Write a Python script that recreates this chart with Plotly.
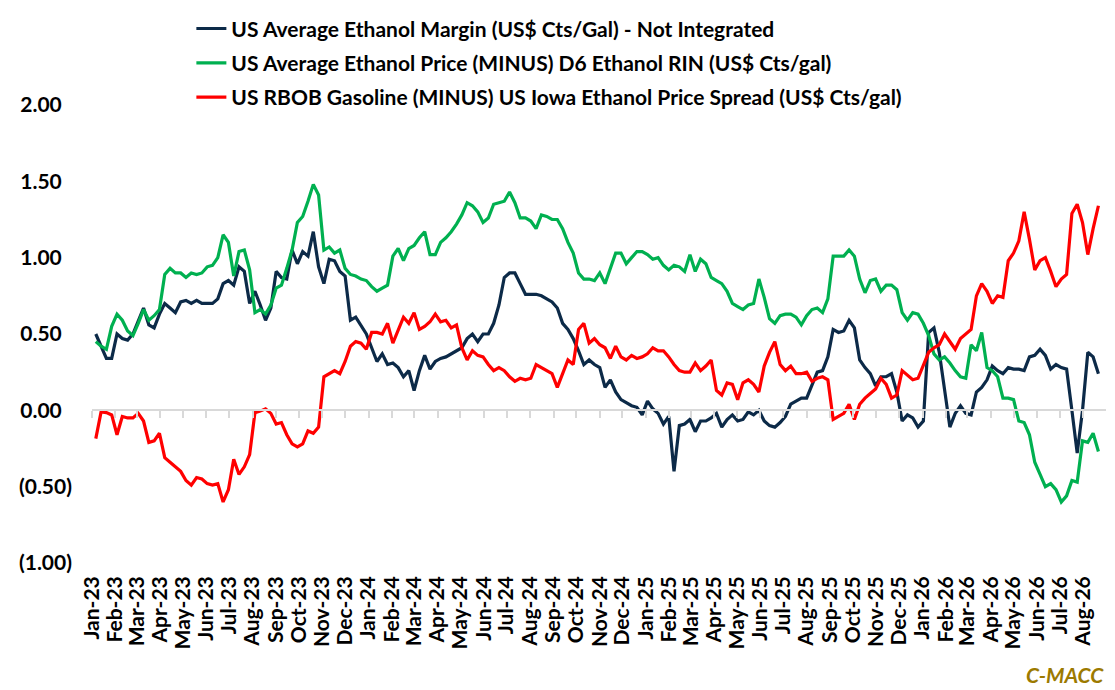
import pandas as pd
import plotly.graph_objects as go

# weekly observations, Jan-23 to Aug-26
weeks = pd.date_range("2023-01-06", periods=190, freq="7D")

margin_not_integrated = [
    0.50, 0.42, 0.34, 0.34, 0.50, 0.47, 0.46, 0.50, 0.58, 0.67,
    0.56, 0.54, 0.63, 0.70, 0.67, 0.64, 0.71, 0.72, 0.70, 0.72,
    0.70, 0.70, 0.70, 0.73, 0.83, 0.85, 0.82, 0.94, 0.91, 0.70,
    0.78, 0.69, 0.59, 0.67, 0.91, 0.87, 0.86, 1.05, 0.96, 1.04,
    1.01, 1.17, 0.94, 0.83, 0.99, 0.98, 0.91, 0.88,
    0.59, 0.61, 0.55, 0.50, 0.41, 0.32, 0.37, 0.30, 0.31, 0.28,
    0.22, 0.26, 0.13, 0.26, 0.36, 0.27, 0.32, 0.34, 0.35, 0.37,
    0.39, 0.41, 0.47, 0.50, 0.45, 0.50, 0.50, 0.57, 0.69, 0.87,
    0.90, 0.90, 0.83, 0.76, 0.76, 0.76, 0.75, 0.73, 0.71, 0.67,
    0.57, 0.53, 0.47, 0.39, 0.30, 0.33,
    0.30, 0.28, 0.15, 0.20, 0.12, 0.07, 0.05, 0.03, 0.02, -0.03,
    0.06, 0.01, -0.02, -0.09, -0.04, -0.40, -0.10, -0.09, -0.06, -0.14,
    -0.07, -0.07, -0.05, -0.02, -0.11, -0.06, -0.03, -0.07, -0.06, -0.01,
    -0.03, 0.00, -0.07, -0.10, -0.11, -0.08, -0.04, 0.04, 0.06, 0.08,
    0.08, 0.17, 0.25, 0.26, 0.35, 0.53, 0.51, 0.52,
    0.59, 0.54, 0.33, 0.28, 0.24, 0.16, 0.22, 0.22, 0.24, 0.12,
    -0.07, -0.03, -0.05, -0.11, -0.07, 0.51, 0.54, 0.38, 0.15, -0.11,
    -0.02, 0.03, -0.02, -0.03, 0.12, 0.15, 0.20, 0.29, 0.26, 0.24,
    0.28, 0.27, 0.27, 0.26, 0.35, 0.36, 0.40, 0.36, 0.27, 0.30,
    0.28, 0.27, 0.00, -0.28, 0.00, 0.38, 0.35, 0.24,
]

ethanol_minus_rin = [
    0.45, 0.42, 0.40, 0.55, 0.63, 0.59, 0.52, 0.49, 0.57, 0.66,
    0.59, 0.62, 0.66, 0.89, 0.93, 0.90, 0.90, 0.87, 0.90, 0.89,
    0.90, 0.94, 0.95, 1.00, 1.15, 1.10, 0.88, 1.04, 1.05, 0.92,
    0.64, 0.66, 0.63, 0.69, 0.80, 0.82, 0.93, 1.05, 1.23, 1.27,
    1.37, 1.48, 1.41, 1.05, 1.07, 1.03, 1.05, 0.93,
    0.89, 0.88, 0.86, 0.85, 0.81, 0.78, 0.80, 0.82, 1.01, 1.06,
    0.98, 1.06, 1.08, 1.13, 1.17, 1.02, 1.02, 1.10, 1.13, 1.17,
    1.22, 1.28, 1.36, 1.34, 1.30, 1.23, 1.26, 1.35, 1.36, 1.37,
    1.43, 1.36, 1.26, 1.26, 1.24, 1.19, 1.28, 1.27, 1.25, 1.25,
    1.19, 1.10, 1.03, 0.90, 0.86, 0.86,
    0.85, 0.90, 0.83, 0.93, 1.03, 1.03, 0.96, 1.00, 1.04, 1.04,
    1.02, 0.99, 1.00, 0.95, 0.92, 0.95, 0.94, 0.91, 1.02, 0.91,
    0.99, 0.96, 0.87, 0.85, 0.83, 0.78, 0.70, 0.68, 0.66, 0.69,
    0.70, 0.86, 0.74, 0.60, 0.57, 0.62, 0.63, 0.63, 0.61, 0.56,
    0.62, 0.66, 0.67, 0.64, 0.73, 1.01, 1.01, 1.01,
    1.05, 1.01, 0.86, 0.77, 0.85, 0.86, 0.78, 0.82, 0.82, 0.79,
    0.64, 0.59, 0.64, 0.63, 0.57, 0.49, 0.37, 0.33, 0.35, 0.31,
    0.26, 0.22, 0.21, 0.43, 0.39, 0.51, 0.28, 0.26, 0.22, 0.08,
    0.08, 0.07, -0.07, -0.08, -0.16, -0.34, -0.42, -0.50, -0.48, -0.52,
    -0.60, -0.56, -0.46, -0.47, -0.20, -0.21, -0.15, -0.27,
]

rbob_minus_iowa = [
    -0.185, -0.01, -0.015, -0.03, -0.16, -0.04, -0.05, -0.05, -0.02, -0.07,
    -0.21, -0.20, -0.15, -0.31, -0.34, -0.37, -0.40, -0.46, -0.49, -0.44,
    -0.45, -0.48, -0.49, -0.48, -0.60, -0.52, -0.32, -0.42, -0.37, -0.29,
    -0.015, -0.005, 0.01, -0.02, -0.09, -0.08, -0.16, -0.22, -0.24, -0.22,
    -0.135, -0.15, -0.11, 0.22, 0.24, 0.26, 0.24, 0.32,
    0.42, 0.45, 0.44, 0.40, 0.51, 0.51, 0.50, 0.57, 0.44, 0.52,
    0.61, 0.57, 0.64, 0.53, 0.55, 0.58, 0.63, 0.58, 0.59, 0.54,
    0.56, 0.41, 0.33, 0.39, 0.36, 0.35, 0.30, 0.26, 0.28, 0.26,
    0.22, 0.19, 0.21, 0.20, 0.21, 0.30, 0.28, 0.26, 0.24, 0.15,
    0.24, 0.33, 0.30, 0.53, 0.57, 0.44,
    0.47, 0.43, 0.41, 0.34, 0.42, 0.35, 0.33, 0.36, 0.34, 0.35,
    0.37, 0.41, 0.39, 0.39, 0.35, 0.30, 0.26, 0.25, 0.25, 0.31,
    0.26, 0.29, 0.33, 0.13, 0.10, 0.18, 0.17, 0.07, 0.18, 0.20,
    0.17, 0.12, 0.29, 0.38, 0.45, 0.30, 0.26, 0.29, 0.24, 0.24,
    0.25, 0.19, 0.21, 0.22, 0.20, -0.06, -0.04, -0.02,
    0.04, -0.06, 0.04, 0.08, 0.11, 0.14, 0.21, 0.17, 0.08, 0.10,
    0.26, 0.23, 0.20, 0.21, 0.30, 0.38, 0.41, 0.43, 0.50, 0.45,
    0.40, 0.47, 0.50, 0.53, 0.75, 0.83, 0.78, 0.70, 0.75, 0.74,
    0.98, 1.03, 1.11, 1.30, 1.12, 0.92, 0.98, 1.00, 0.91, 0.81,
    0.86, 0.89, 1.29, 1.35, 1.23, 1.02, 1.19, 1.34,
]

series_names = [
    "US Average Ethanol Margin (US$ Cts/Gal) - Not Integrated",
    "US Average Ethanol Price (MINUS) D6 Ethanol RIN (US$ Cts/gal)",
    "US RBOB Gasoline (MINUS) US Iowa Ethanol Price Spread (US$ Cts/gal)",
]
series_colors = ["#0c2a48", "#00b050", "#ff0000"]

y_ticks = [-1.0, -0.5, 0.0, 0.5, 1.0, 1.5, 2.0]


def fmt_tick(v):
    # accounting style: negatives in brackets, positives padded for the ")"
    if v < 0:
        return f"({abs(v):.2f})"
    return f"{v:.2f}\u00a0\u00a0"


fig = go.Figure()
series = [margin_not_integrated, ethanol_minus_rin, rbob_minus_iowa]
for i, (name, vals, color) in enumerate(zip(series_names, series, series_colors)):
    fig.add_trace(go.Scatter(x=weeks, y=vals, mode="lines", name=name,
                             legendgroup=str(i),
                             line=dict(color=color, width=3.2)))

# empty trace so the axis drawn along zero gets created
fig.add_trace(go.Scatter(x=[], y=[], xaxis="x2", showlegend=False, hoverinfo="skip"))

fig.update_layout(
    width=1115, height=690,
    margin=dict(l=84, r=17, t=97, b=135, autoexpand=False),
    plot_bgcolor="white", paper_bgcolor="white",
    font=dict(family="Lato", size=21, color="black", weight="bold"),
    showlegend=True,
    legend=dict(x=0.098, y=1.211, xanchor="left", yanchor="top",
                traceorder="grouped", tracegroupgap=4,
                bgcolor="rgba(0,0,0,0)", font=dict(size=21)),
    xaxis=dict(type="date", range=["2023-01-01", "2026-08-31"],
               tick0="2023-01-01", dtick="M1", tickformat="%b-%y",
               tickangle=-90, showgrid=False, showline=False,
               zeroline=False, ticks="", ticklabelstandoff=8,
               tickfont=dict(size=21)),
    xaxis2=dict(type="date", overlaying="x", matches="x", anchor="free",
                position=1 / 3, side="bottom", showline=True,
                linecolor="#d9d9d9", linewidth=2, ticks="outside",
                ticklen=7, tickwidth=2, tickcolor="#d9d9d9",
                tick0="2023-01-01", dtick="M1", showticklabels=False,
                showgrid=False, zeroline=False),
    yaxis=dict(range=[-1, 2], tickvals=y_ticks,
               ticktext=[fmt_tick(v) for v in y_ticks],
               showgrid=False, zeroline=False, showline=False, ticks="",
               ticklabelstandoff=19, tickfont=dict(size=21)),
)

fig.add_annotation(text="<b><i>C-MACC</i></b>", xref="paper", yref="paper",
                   x=1.0, y=-0.243, xanchor="right", yanchor="middle",
                   showarrow=False, font=dict(size=21, color="#9c7a00"))

fig.write_html("out.html")
